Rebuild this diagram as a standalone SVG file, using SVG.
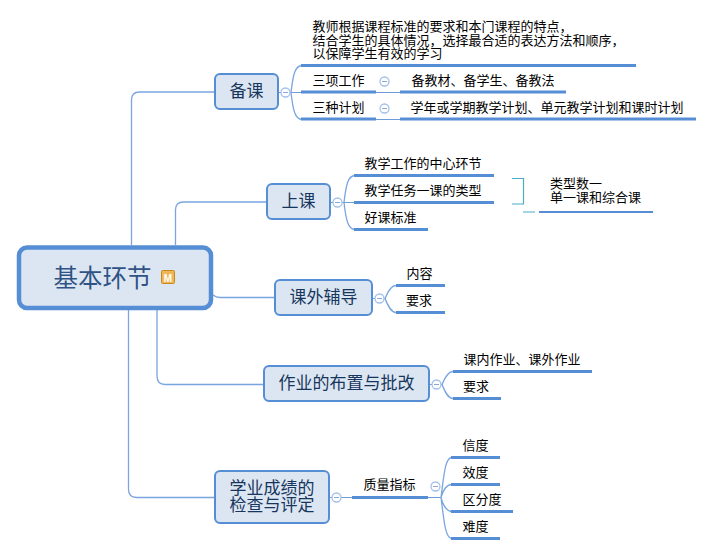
<svg xmlns="http://www.w3.org/2000/svg" width="714" height="555" viewBox="0 0 714 555">
<style>
text{font-family:"Noto Sans CJK SC","Liberation Sans",sans-serif;}
.t{font-size:13px;fill:#000}
.m{font-size:17px;fill:#17365d}
.r{font-size:24.5px;fill:#2f5385}
.box{fill:#dce6f2;stroke:#558ed5;stroke-width:2}
.c{fill:none;stroke:#7aa5e0;stroke-width:1.3}
.b{fill:none;stroke:#558ed5;stroke-width:3}
.b2{fill:none;stroke:#558ed5;stroke-width:2}
.h{fill:none;stroke:#6f9bd8;stroke-width:1}
.k{fill:none;stroke:#4bacc6;stroke-width:1.2}
.col{fill:#fff;stroke:#a3c0ea;stroke-width:1.3}
.minus{stroke:#8aa8d6;stroke-width:1}
</style>
<defs>
<g id="collapse"><circle class="col" r="4.5"/><path class="minus" d="M-2.5 0H2.5"/></g>
</defs>
<g id="connectors">
<path class="c" d="M131.500 245V100Q131.500 92 139.500 92H215"/>
<path class="c" d="M175.500 245V210Q175.500 202 183.500 202H267"/>
<path class="c" d="M213 295Q216 297.500 220 297.500H275"/>
<path class="c" d="M157 310V376Q157 384.500 165 384.500H264"/>
<path class="c" d="M128.500 310V489Q128.500 497.500 136.500 497.500H215"/>
<path class="h" d="M278 92.500H281M290 92.500H301M330 202.500H333M342 202.500H354M372 298.500H375M384 298.500H386M429 384.500H432M441 384.500H443M329 497.500H332M341 497.500H352M428 497.500H441M376 92.500H400M376 119.500H400"/>
<path class="c" d="M291 92.500C293 75 295 65.500 302 65.500M291 92.500C293 110 295 119.500 302 119.500"/>
<path class="c" d="M344 202.500C346 185 348 175.500 355 175.500M344 202.500C346 220 348 229.500 355 229.500"/>
<path class="c" d="M385 298.500C388 291 391 285.500 396 285.500M385 298.500C388 306 391 312.500 396 312.500"/>
<path class="c" d="M442 384.500C445 377 448 371.500 453 371.500M442 384.500C445 392 448 398.500 453 398.500"/>
<path class="c" d="M441 497.500C444 475 445 457.500 452 457.500M441 497.500C443 490 446 484.500 452 484.500M441 497.500C443 505 446 511.500 452 511.500M441 497.500C444 520 445 538.500 452 538.500"/>
<path class="b" d="M301 65.500H636M301 92H376M400 92H566M301 119H376M400 119H696"/>
<path class="b" d="M354 175.500H494M354 202.500H494M354 229.500H428"/>
<path class="k" d="M512 178.500H523.500V204H512M523 212H535"/>
<path class="b2" d="M539 212H653"/>
<path class="b" d="M396 285.500H445M396 312.500H445"/>
<path class="b" d="M453 371.500H592M453 398.500H501"/>
<path class="b" d="M352 497.500H428M451 457.500H500M451 484.500H500M451 511.500H513M451 538.500H500"/>
</g>
<g id="root">
<rect x="19" y="247.500" width="192" height="60.500" rx="8" fill="#dce6f2" stroke="#558ed5" stroke-width="4.500"/>
<text class="r" x="53.500" y="287">基本环节</text>
<rect x="161.500" y="270.500" width="13" height="13" rx="1" fill="#f0b655" stroke="#c68a1f"/>
<text x="168" y="281.500" text-anchor="middle" style="font-family:'Liberation Sans',sans-serif;font-size:10px;font-weight:bold;fill:#fff">M</text>
</g>
<g id="n1">
<rect class="box" x="215" y="74" width="63" height="35" rx="5"/>
<text class="m" x="229.500" y="97">备课</text>
<use href="#collapse" x="285.500" y="92.500"/>
<text class="t" x="312.500" y="31">教师根据课程标准的要求和本门课程的特点，</text>
<text class="t" x="312.500" y="44.500">结合学生的具体情况，选择最合适的表达方法和顺序，</text>
<text class="t" x="312.500" y="58">以保障学生有效的学习</text>
<text class="t" x="312.500" y="84.500">三项工作</text>
<use href="#collapse" x="384.500" y="81.500"/>
<text class="t" x="411.500" y="84.500">备教材、备学生、备教法</text>
<text class="t" x="312.500" y="111.500">三种计划</text>
<use href="#collapse" x="384.500" y="108.500"/>
<text class="t" x="410.500" y="111.500">学年或学期教学计划、单元教学计划和课时计划</text>
</g>
<g id="n2">
<rect class="box" x="267" y="184" width="63" height="35" rx="5"/>
<text class="m" x="281.500" y="207">上课</text>
<use href="#collapse" x="337.500" y="202.500"/>
<text class="t" x="364.500" y="167.500">教学工作的中心环节</text>
<text class="t" x="364.500" y="194.500">教学任务一课的类型</text>
<text class="t" x="364.500" y="221.500">好课标准</text>
<text class="t" x="550" y="187.500">类型数一</text>
<text class="t" x="550" y="201.500">单一课和综合课</text>
</g>
<g id="n3">
<rect class="box" x="275" y="280" width="97" height="35" rx="5"/>
<text class="m" x="289.500" y="303">课外辅导</text>
<use href="#collapse" x="379.500" y="298.500"/>
<text class="t" x="406.500" y="277.500">内容</text>
<text class="t" x="406" y="304.500">要求</text>
</g>
<g id="n4">
<rect class="box" x="264" y="366" width="165" height="35" rx="5"/>
<text class="m" x="278.500" y="389">作业的布置与批改</text>
<use href="#collapse" x="436.500" y="384.500"/>
<text class="t" x="463.500" y="363.500">课内作业、课外作业</text>
<text class="t" x="463" y="390.500">要求</text>
</g>
<g id="n5">
<rect class="box" x="215" y="471" width="114" height="52" rx="5"/>
<text class="m" x="229.500" y="493.500">学业成绩的</text>
<text class="m" x="229.500" y="511">检查与评定</text>
<use href="#collapse" x="336.500" y="497.500"/>
<text class="t" x="363.500" y="489">质量指标</text>
<use href="#collapse" x="435.500" y="486.500"/>
<text class="t" x="462.500" y="449.500">信度</text>
<text class="t" x="462.500" y="476.500">效度</text>
<text class="t" x="462.500" y="503.500">区分度</text>
<text class="t" x="462.500" y="530.500">难度</text>
</g>
</svg>
